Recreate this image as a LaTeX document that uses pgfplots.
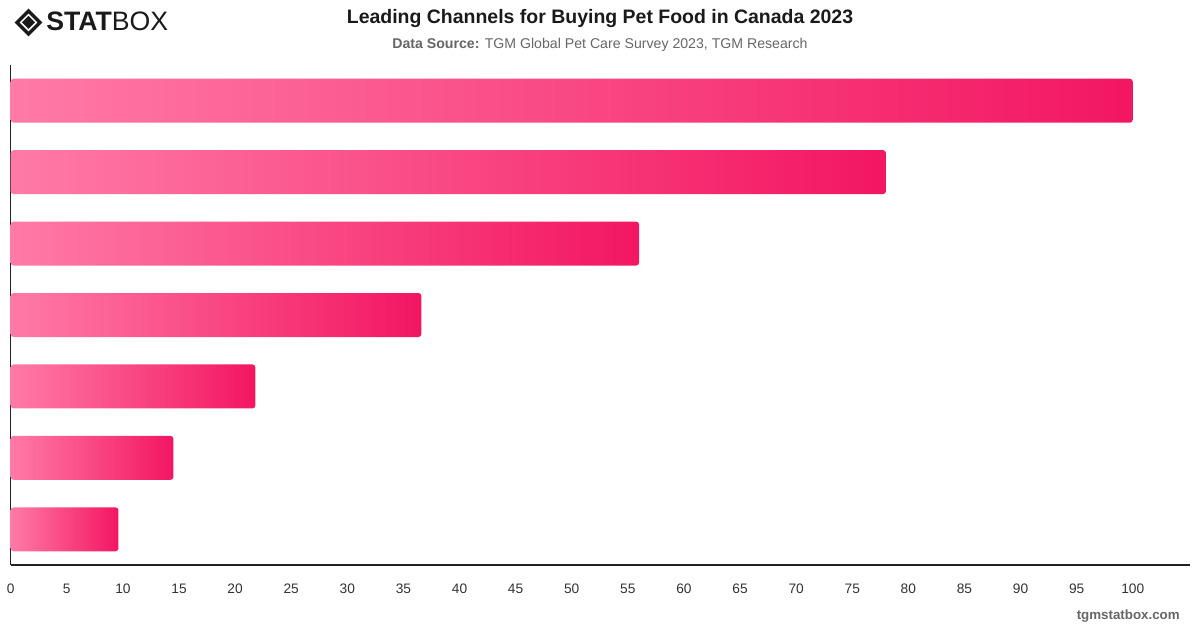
\documentclass[border=0pt]{standalone}
\usepackage{fontspec}
\setmainfont{Liberation Sans}
\usepackage{pgfplots}
\pgfplotsset{compat=1.18}

\definecolor{barlight}{HTML}{FF7AA6}
\definecolor{bardark}{HTML}{F31662}
\definecolor{titlecol}{HTML}{1A1A1A}
\definecolor{subcol}{HTML}{666666}
\definecolor{tickcol}{HTML}{333333}
\definecolor{axiscol}{HTML}{222222}

% 1 px = 0.75 pt
\newcommand{\px}[1]{#1*0.75pt}

\pgfplotsset{
  chbar/.style={draw=none, left color=barlight, right color=bardark,
                rounded corners=2.2pt, bar shift=0pt},
}

\begin{document}
\begin{tikzpicture}[x=0.75pt,y=0.75pt]
  % canvas 1200 x 628 px, origin at bottom left
  \path[use as bounding box] (0,0) rectangle (1200,628);

  % logo
  \begin{scope}[shift={(28.5,605.5)}]
    \draw[line width=2.6pt, line join=miter, titlecol] (0,11.5) -- (11.5,0) -- (0,-11.5) -- (-11.5,0) -- cycle;
    \fill[titlecol] (0,6.5) -- (6.5,0) -- (0,-6.5) -- (-6.5,0) -- cycle;
  \end{scope}
  \node[anchor=base west, inner sep=0pt, text=titlecol] at (46,597)
    {\fontsize{20}{20}\selectfont\bfseries STAT\mdseries BOX};

  % titles
  \node[anchor=base, inner sep=0pt, text=titlecol] at (600,604)
    {\fontsize{14.6}{16}\selectfont\bfseries Leading Channels for Buying Pet Food in Canada 2023};
  \node[anchor=base, inner sep=0pt, text=subcol] at (600,579)
    {\fontsize{10.6}{12}\selectfont\textbf{Data Source:} TGM Global Pet Care Survey 2023, TGM Research};

  % footer
  \node[anchor=base east, inner sep=0pt, text=subcol] at (1180,8)
    {\fontsize{10}{12}\selectfont\bfseries tgmstatbox.com};

  \begin{axis}[
      at={(8.025pt,47.25pt)}, anchor=south west,
      scale only axis,
      width=\px{1179.3}, height=\px{500},
      xbar, bar width=\px{44},
      xmin=0, xmax=105.1,
      ymin=-0.5, ymax=6.5,
      y dir=reverse,
      ytick=\empty,
      xtick={0,5,...,100},
      axis x line*=bottom, axis y line*=left,
      axis line style={axiscol, line width=1.1pt},
      major tick length=0pt,
      xticklabel style={text=tickcol, font=\fontsize{10.3}{12}\selectfont, yshift=-10.5pt},
      /pgf/number format/assume math mode=true,
      clip=false,
    ]
    % one plot per bar so each bar carries its own gradient
    \addplot[chbar] coordinates {(100,0)};
    \addplot[chbar] coordinates {(78.0,1)};
    \addplot[chbar] coordinates {(56.0,2)};
    \addplot[chbar] coordinates {(36.6,3)};
    \addplot[chbar] coordinates {(21.8,4)};
    \addplot[chbar] coordinates {(14.5,5)};
    \addplot[chbar] coordinates {(9.6,6)};
  \end{axis}
\end{tikzpicture}
\end{document}
